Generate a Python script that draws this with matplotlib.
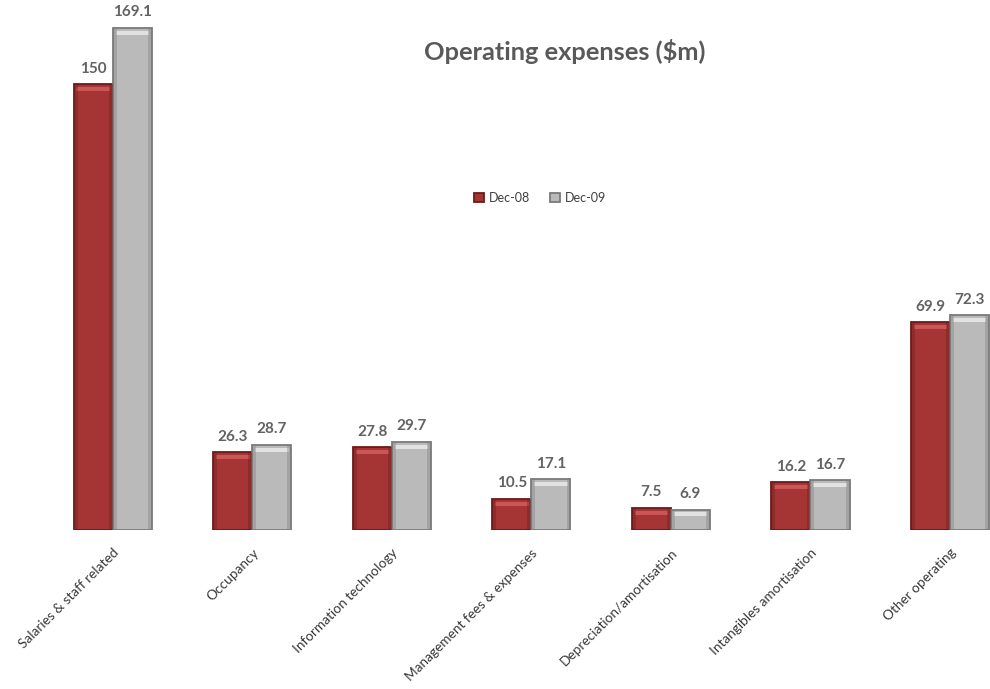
import matplotlib
matplotlib.use("Agg")
import matplotlib.pyplot as plt
import numpy as np

categories = [
    "Salaries & staff related",
    "Occupancy",
    "Information technology",
    "Management fees & expenses",
    "Depreciation/amortisation",
    "Intangibles amortisation",
    "Other operating",
]
dec08 = [150, 26.3, 27.8, 10.5, 7.5, 16.2, 69.9]
dec09 = [169.1, 28.7, 29.7, 17.1, 6.9, 16.7, 72.3]
series_names = ["Dec-08", "Dec-09"]

plt.rcParams["font.family"] = ["Lato", "DejaVu Sans"]

W, H = 990, 689
fig = plt.figure(figsize=(W / 100, H / 100), dpi=100)
# axes: left edge at x=43px, right at 990px; baseline at y=530px, top at 0
left, right = 43 / W, 1.0
bottom, top = (H - 530) / H, 1.0
ax = fig.add_axes([left, bottom, right - left, top - bottom])

x = np.arange(len(categories))
bw = 0.28
xmax = 6 + (990 - 950) / 139.5
ax.set_xlim(-0.5, xmax)
ymax = 530 / 2.97
ax.set_ylim(0, ymax)

styles = [
    dict(face="#a53434", edge="#6a1b1b", hi="#cc5656"),
    dict(face="#bababa", edge="#7a7a7a", hi="#e2e2e2"),
]
band = 4.0 / 2.97  # highlight band height in data units

for k, (vals, st) in enumerate(zip([dec08, dec09], styles)):
    xs = x + (k - 0.5) * bw
    ax.bar(xs, vals, width=bw, color=st["face"], edgecolor=st["edge"],
           linewidth=1.3, label=series_names[k], zorder=2)
    v = np.array(vals)
    # bevel highlight along the top edge
    ax.bar(xs, np.full_like(v, band), bottom=v - band * 1.7, width=bw * 0.86,
           color=st["hi"], linewidth=0, zorder=3)
    # darker side shading
    ax.bar(xs - bw * 0.45, v, width=bw * 0.1, color=st["edge"], alpha=0.35,
           linewidth=0, zorder=3)
    ax.bar(xs + bw * 0.45, v, width=bw * 0.1, color=st["edge"], alpha=0.35,
           linewidth=0, zorder=3)
    for xi, val in zip(xs, vals):
        ax.annotate(f"{val:g}", (xi, val), xytext=(0, 6), textcoords="offset points",
                    ha="center", va="bottom", fontsize=11, fontweight="bold",
                    color="#626262")

for s in ax.spines.values():
    s.set_visible(False)
ax.set_yticks([])
ax.set_xticks(x)
ax.set_xticklabels(categories, rotation=45, ha="right", va="top",
                   rotation_mode="anchor", fontsize=9.8, color="#383838")
ax.tick_params(axis="x", length=0, pad=12)

fig.text(565 / W, 1 - 52 / H, "Operating expenses ($m)", ha="center", va="center",
         fontsize=18.3, fontweight="bold", color="#595959")

fig.legend(loc="center", bbox_to_anchor=(540 / W, 1 - 198 / H), ncol=2,
           frameon=False, fontsize=9, handlelength=0.8, handleheight=0.8,
           handletextpad=0.4, columnspacing=1.6, labelcolor="#404040")

fig.savefig("out.png", dpi=100)
